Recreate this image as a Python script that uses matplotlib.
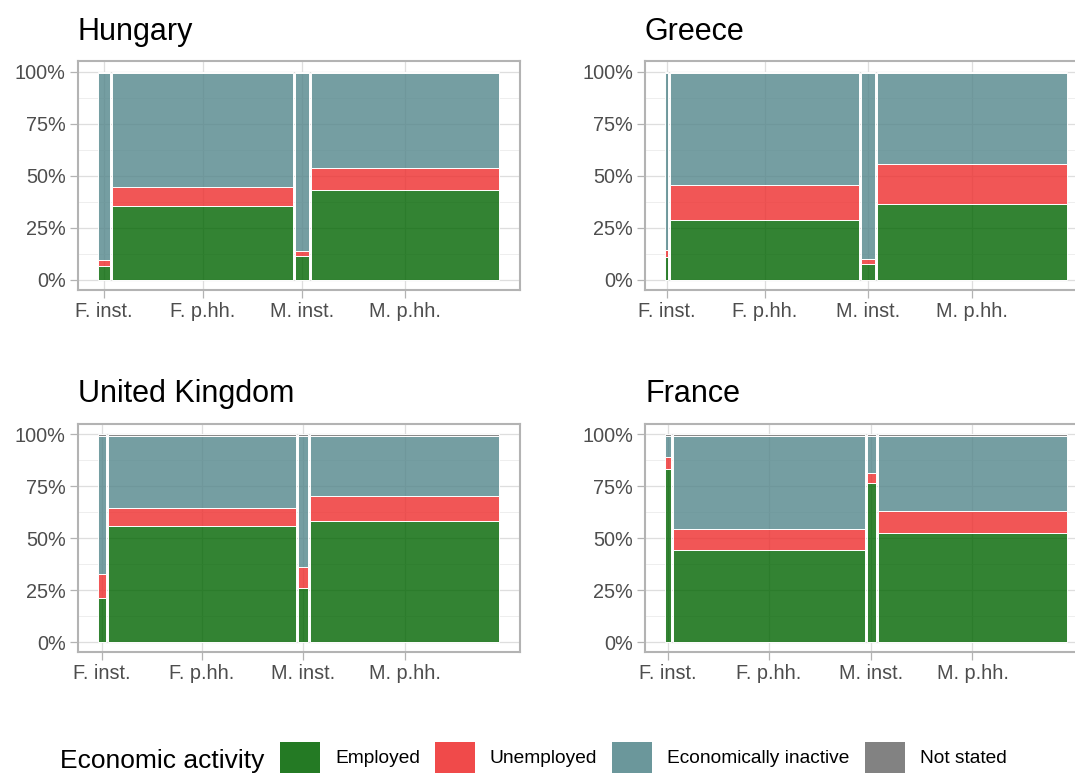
import numpy as np
import matplotlib
matplotlib.use("Agg")
import matplotlib.pyplot as plt
from matplotlib.patches import Patch
from matplotlib.ticker import FixedLocator, PercentFormatter
from matplotlib.colors import to_rgba

plt.rcParams['font.family'] = ['Liberation Sans', 'DejaVu Sans']

# ---- data: share of each group (column width) and activity split (%) ----
countries = ["Hungary", "Greece", "United Kingdom", "France"]
groups = ["F. inst.", "F. p.hh.", "M. inst.", "M. p.hh."]

group_share = [
    [3.1, 45.8, 3.6, 47.5],
    [0.8, 47.8, 3.5, 48.0],
    [2.1, 47.5, 2.5, 47.8],
    [1.4, 48.5, 2.4, 47.7],
]
employed = [
    [6.9, 35.5, 11.4, 43.0],
    [11.2, 28.6, 7.5, 36.3],
    [21.0, 56.0, 26.2, 58.1],
    [83.5, 44.3, 76.4, 52.3],
]
unemployed = [
    [2.5, 9.3, 2.4, 10.6],
    [3.2, 17.2, 2.4, 19.5],
    [11.6, 8.5, 9.9, 12.0],
    [5.7, 10.1, 4.8, 10.9],
]
inactive = [
    [89.8, 54.4, 85.4, 45.6],
    [84.8, 53.4, 89.3, 43.4],
    [66.6, 34.7, 63.1, 29.1],
    [10.0, 44.8, 18.0, 36.0],
]
not_stated = [
    [0.8, 0.8, 0.8, 0.8],
    [0.8, 0.8, 0.8, 0.8],
    [0.8, 0.8, 0.8, 0.8],
    [0.8, 0.8, 0.8, 0.8],
]

activity_labels = ["Employed", "Unemployed", "Economically inactive", "Not stated"]
activity_colors = ["#006400", "#EE2C2C", "#53868B", "#6E6E6E"]
fill_alpha = 0.8
gap = 0.005          # horizontal spacing between columns

W, H = 1075, 773
fig = plt.figure(figsize=(W / 100, H / 100), dpi=100)

# panel boxes in pixels: left, top, right, bottom (right column runs off the page)
boxes = [
    (77.6, 61.3, 519.5, 290.4),
    (645.0, 61.3, 1087.0, 290.4),
    (77.6, 423.9, 519.5, 652.4),
    (645.0, 423.9, 1087.0, 652.4),
]

frame_col = "#B3B3B3"
text_col = "#4D4D4D"

for k, country in enumerate(countries):
    l, t, r, b = boxes[k]
    ax = fig.add_axes([l / W, 1 - b / H, (r - l) / W, (b - t) / H])

    widths = np.array(group_share[k]) / 100.0
    widths = widths / widths.sum()
    lefts = np.concatenate([[0], np.cumsum(widths[:-1])]) + gap * np.arange(4)
    centers = lefts + widths / 2
    total = lefts[-1] + widths[-1]

    series = [employed[k], unemployed[k], inactive[k], not_stated[k]]
    bottom = np.zeros(4)
    for vals, col in zip(series, activity_colors):
        h = np.array(vals) / 100.0
        ax.bar(centers, h, width=widths, bottom=bottom,
               facecolor=to_rgba(col, fill_alpha), edgecolor="white",
               linewidth=0.7, zorder=2)
        bottom = bottom + h

    ax.set_xlim(-0.05 * total, 1.05 * total)
    ax.set_ylim(-0.05, 1.05)

    ax.xaxis.set_major_locator(FixedLocator(centers))
    ax.set_xticklabels(groups)
    ax.yaxis.set_major_locator(FixedLocator([0, 0.25, 0.5, 0.75, 1.0]))
    ax.yaxis.set_minor_locator(FixedLocator([0.125, 0.375, 0.625, 0.875]))
    ax.yaxis.set_major_formatter(PercentFormatter(1.0, decimals=0))

    ax.set_axisbelow(True)
    ax.grid(True, which="major", color="#DEDEDE", linewidth=0.9)
    ax.grid(True, which="minor", axis="y", color="#EBEBEB", linewidth=0.6)

    for s in ax.spines.values():
        s.set_color(frame_col)
        s.set_linewidth(1.5)

    ax.tick_params(which="major", length=5.5, width=0.9, color=frame_col,
                   labelsize=14.3, labelcolor=text_col, pad=3)
    ax.tick_params(which="minor", length=0)

    ax.set_title(country, loc="left", fontsize=22, color="black", pad=15.5)

# legend along the bottom edge
fs = 13.8
fs_px = fs * 100 / 72
handles = [Patch(facecolor=to_rgba(c, 0.86), edgecolor="none") for c in activity_colors]
fig.legend(handles, activity_labels, loc="upper left",
           bbox_to_anchor=(280 / W, 1 - 742 / H), ncol=4, frameon=False,
           fontsize=fs, handlelength=40 / fs_px, handleheight=40 / fs_px,
           handletextpad=15 / fs_px, columnspacing=15 / fs_px,
           borderpad=0, borderaxespad=0)
fig.text(60 / W, 1 - 761 / H, "Economic activity", fontsize=19, va="center",
         ha="left", color="black")

fig.savefig("out.png", dpi=100)
